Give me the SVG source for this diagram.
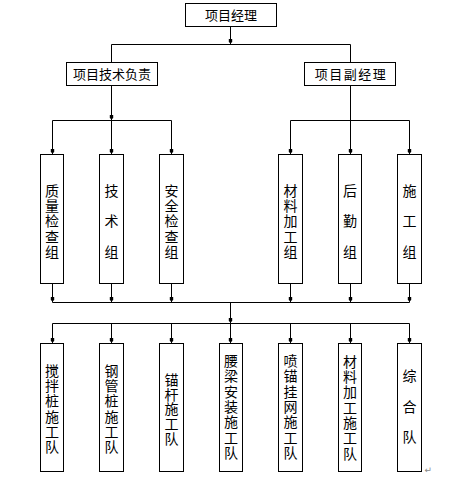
<svg xmlns="http://www.w3.org/2000/svg" width="457" height="487" viewBox="0 0 457 487">
<style>
.box{fill:#fff;stroke:#000;stroke-width:1}
.ln{fill:none;stroke:#000;stroke-width:1}
.ar{marker-end:url(#arr)}
.t{font-family:"Noto Sans CJK SC","Noto Sans CJK JP",sans-serif;font-size:14px;fill:#000;text-anchor:middle}
.h{font-family:"Noto Sans CJK SC","Noto Sans CJK JP",sans-serif;font-size:13px;fill:#000;text-anchor:middle}
</style>
<defs>
<marker id="arr" markerUnits="userSpaceOnUse" markerWidth="8" markerHeight="6" viewBox="0 -3 8 6" refX="5.5" refY="0" orient="auto">
<path d="M0,-1.7 L3,-1.7 L4.5,0 L3,1.7 L0,1.7 Z" fill="#000"/>
</marker>
</defs>
<rect width="457" height="487" fill="#fff"/>
<g id="connectors">
<path class="ln ar" d="M230.5,26.5 V44.5"/>
<path class="ln" d="M111.5,44.5 H350.5"/>
<path class="ln" d="M111.5,44.5 V62.5 M350.5,44.5 V62.5"/>
<path class="ln ar" d="M111.5,85.5 V120.5"/>
<path class="ln" d="M52.5,120.5 H171.5"/>
<path class="ln ar" d="M52.5,120.5 V154.5"/>
<path class="ln ar" d="M111.5,120.5 V154.5"/>
<path class="ln ar" d="M171.5,120.5 V154.5"/>
<path class="ln ar" d="M350.5,85.5 V154.5"/>
<path class="ln" d="M290.5,120.5 H409.5"/>
<path class="ln ar" d="M290.5,120.5 V154.5"/>
<path class="ln ar" d="M409.5,120.5 V154.5"/>
<path class="ln ar" d="M52.5,283.5 V302.5"/>
<path class="ln ar" d="M111.5,283.5 V302.5"/>
<path class="ln ar" d="M171.5,283.5 V302.5"/>
<path class="ln ar" d="M290.5,283.5 V302.5"/>
<path class="ln ar" d="M350.5,283.5 V302.5"/>
<path class="ln ar" d="M409.5,283.5 V302.5"/>
<path class="ln" d="M52.5,302.5 H409.5"/>
<path class="ln ar" d="M230.5,302.5 V323.5"/>
<path class="ln" d="M52.5,323.5 H409.5"/>
<path class="ln ar" d="M52.5,323.5 V343.5"/>
<path class="ln ar" d="M111.5,323.5 V343.5"/>
<path class="ln ar" d="M171.5,323.5 V343.5"/>
<path class="ln ar" d="M230.5,323.5 V343.5"/>
<path class="ln ar" d="M290.5,323.5 V343.5"/>
<path class="ln ar" d="M350.5,323.5 V343.5"/>
<path class="ln ar" d="M409.5,323.5 V343.5"/>
</g>
<g id="n-pm"><rect class="box" x="185.5" y="3.5" width="91" height="23"/><text class="h" x="231" y="20">项目经理</text></g>
<g id="n-tech"><rect class="box" x="66.5" y="62.5" width="91" height="23"/><text class="h" x="112" y="79">项目技术负责</text></g>
<g id="n-vpm"><rect class="box" x="304.5" y="62.5" width="91" height="23"/><text class="h" x="351" y="79" letter-spacing="1.5">项目副经理</text></g>

<g id="n-zl"><rect class="box" x="40.5" y="154.5" width="23" height="129"/><text class="t"><tspan x="52" y="195.7">质</tspan><tspan x="52" y="211">量</tspan><tspan x="52" y="226.3">检</tspan><tspan x="52" y="241.6">查</tspan><tspan x="52" y="256.9">组</tspan></text></g>
<g id="n-js"><rect class="box" x="99.5" y="154.5" width="24" height="129"/><text class="t"><tspan x="111.5" y="195.7">技</tspan><tspan x="111.5" y="226.3">术</tspan><tspan x="111.5" y="256.9">组</tspan></text></g>
<g id="n-aq"><rect class="box" x="159.5" y="154.5" width="24" height="129"/><text class="t"><tspan x="171.5" y="195.7">安</tspan><tspan x="171.5" y="211">全</tspan><tspan x="171.5" y="226.3">检</tspan><tspan x="171.5" y="241.6">查</tspan><tspan x="171.5" y="256.9">组</tspan></text></g>
<g id="n-cl"><rect class="box" x="278.5" y="154.5" width="24" height="129"/><text class="t"><tspan x="290.5" y="195.7">材</tspan><tspan x="290.5" y="211">料</tspan><tspan x="290.5" y="226.3">加</tspan><tspan x="290.5" y="241.6">工</tspan><tspan x="290.5" y="256.9">组</tspan></text></g>
<g id="n-hq"><rect class="box" x="338.5" y="154.5" width="23" height="129"/><text class="t"><tspan x="350" y="195.7">后</tspan><tspan x="350" y="226.3">勤</tspan><tspan x="350" y="256.9">组</tspan></text></g>
<g id="n-sg"><rect class="box" x="397.5" y="154.5" width="24" height="129"/><text class="t"><tspan x="409.5" y="195.7">施</tspan><tspan x="409.5" y="226.3">工</tspan><tspan x="409.5" y="256.9">组</tspan></text></g>

<g id="n-jbz"><rect class="box" x="40.5" y="343.5" width="23" height="128"/><text class="t"><tspan x="52" y="375.7">搅</tspan><tspan x="52" y="391">拌</tspan><tspan x="52" y="406.3">桩</tspan><tspan x="52" y="421.6">施</tspan><tspan x="52" y="436.9">工</tspan><tspan x="52" y="452.2">队</tspan></text></g>
<g id="n-ggz"><rect class="box" x="99.5" y="343.5" width="24" height="128"/><text class="t"><tspan x="111.5" y="375.7">钢</tspan><tspan x="111.5" y="391">管</tspan><tspan x="111.5" y="406.3">桩</tspan><tspan x="111.5" y="421.6">施</tspan><tspan x="111.5" y="436.9">工</tspan><tspan x="111.5" y="452.2">队</tspan></text></g>
<g id="n-mg"><rect class="box" x="159.5" y="343.5" width="24" height="128"/><text class="t"><tspan x="171.5" y="384.7">锚</tspan><tspan x="171.5" y="399.5">杆</tspan><tspan x="171.5" y="414.3">施</tspan><tspan x="171.5" y="429.1">工</tspan><tspan x="171.5" y="443.9">队</tspan></text></g>
<g id="n-yl"><rect class="box" x="219.5" y="343.5" width="23" height="128"/><text class="t"><tspan x="231" y="365.7">腰</tspan><tspan x="231" y="381.1">梁</tspan><tspan x="231" y="396.5">安</tspan><tspan x="231" y="411.9">装</tspan><tspan x="231" y="427.3">施</tspan><tspan x="231" y="442.7">工</tspan><tspan x="231" y="458.1">队</tspan></text></g>
<g id="n-pm2"><rect class="box" x="278.5" y="343.5" width="24" height="128"/><text class="t"><tspan x="290.5" y="365.7">喷</tspan><tspan x="290.5" y="381.1">锚</tspan><tspan x="290.5" y="396.5">挂</tspan><tspan x="290.5" y="411.9">网</tspan><tspan x="290.5" y="427.3">施</tspan><tspan x="290.5" y="442.7">工</tspan><tspan x="290.5" y="458.1">队</tspan></text></g>
<g id="n-cljg"><rect class="box" x="338.5" y="343.5" width="23" height="128"/><text class="t"><tspan x="350" y="366.7">材</tspan><tspan x="350" y="382">料</tspan><tspan x="350" y="397.3">加</tspan><tspan x="350" y="412.6">工</tspan><tspan x="350" y="427.9">施</tspan><tspan x="350" y="443.2">工</tspan><tspan x="350" y="458.5">队</tspan></text></g>
<g id="n-zh"><rect class="box" x="397.5" y="343.5" width="24" height="128"/><text class="t"><tspan x="409.5" y="381">综</tspan><tspan x="409.5" y="411.5">合</tspan><tspan x="409.5" y="442">队</tspan></text></g>
<text x="424.5" y="473" font-family="DejaVu Sans, sans-serif" font-size="9" fill="#888">↵</text>
</svg>
